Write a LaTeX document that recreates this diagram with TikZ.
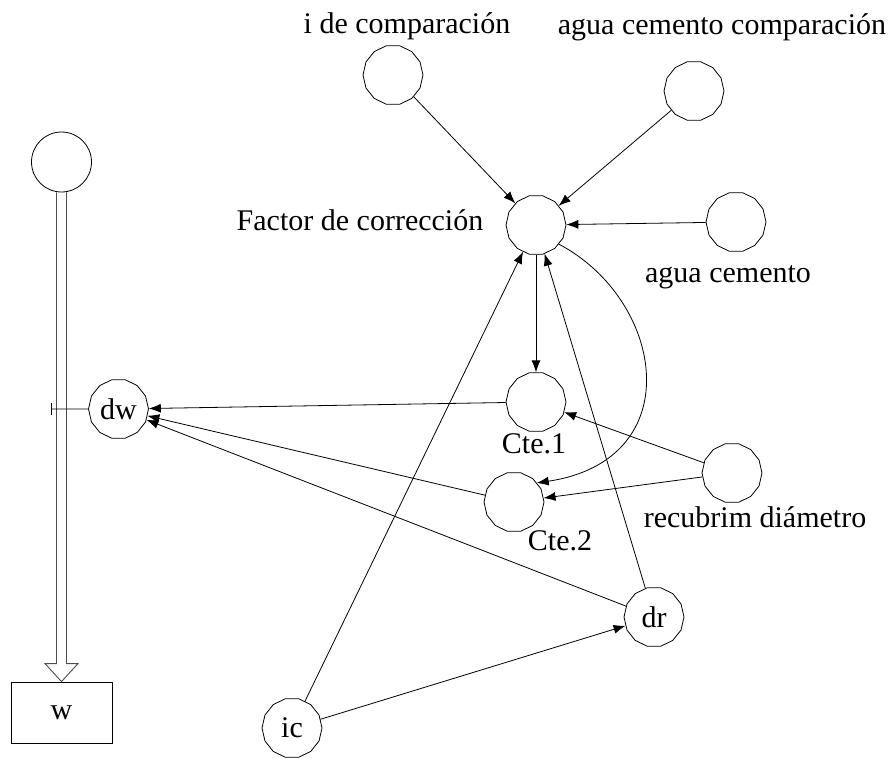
\documentclass[tikz,border=0pt]{standalone}
\usepackage{fontspec}
\setmainfont{Liberation Serif}
\usetikzlibrary{shapes.geometric,arrows.meta,calc}
\begin{document}
\begin{tikzpicture}[x=1pt,y=-1pt,
  every node/.style={font=\fontsize{30}{36}\selectfont},
  poly/.style={draw,regular polygon,regular polygon sides=14,minimum size=60pt,inner sep=0pt,line width=0.8pt},
  lbl/.style={anchor=base,inner sep=0pt},
  edge/.style={line width=0.8pt,-{Latex[length=12pt,width=9pt]}}]
\useasboundingbox (0,0) rectangle (895,758);
% nodes
\node[draw,circle,minimum size=60pt,inner sep=0pt,line width=0.8pt] (tl) at (61.5,162) {};
\node[poly] (dw) at (118.5,409) {dw};
\node[draw,rectangle,minimum width=101pt,minimum height=61pt,line width=0.8pt] (w) at (61.5,712.5) {w};
\node[poly] (icomp) at (393,75) {};
\node[poly] (acc) at (694,91) {};
\node[poly] (factor) at (536,225) {};
\node[poly] (ac) at (736,222) {};
\node[poly] (cte1) at (536,402) {};
\node[poly] (cte2) at (514,502) {};
\node[poly] (recub) at (732,473) {};
\node[poly] (dr) at (654,617) {dr};
\node[poly] (ic) at (292,728) {ic};
% labels
\node[lbl] (licomp) at (407,33) {i de comparación};
\node[lbl] (lacc) at (722,34) {agua cemento comparación};
\node[lbl] (lfactor) at (360,230) {Factor de corrección};
\node[lbl] (lac) at (728,282) {agua cemento};
\node[lbl] (lcte1) at (534,453) {Cte.1};
\node[lbl] (lcte2) at (560,550) {Cte.2};
\node[lbl] (lrecub) at (755,527) {recubrim diámetro};
% double arrow tl -> w
\draw[black!70,line width=0.9pt]
  ($(tl.south)+(-5,0)$) -- ($(w.north)+(-5,-18)$) -- ($(w.north)+(-16.5,-18)$)
  -- (w.north) -- ($(w.north)+(16.5,-18)$) -- ($(w.north)+(5,-18)$) -- ($(tl.south)+(5,0)$);
% tick
\coordinate (tick) at (51,409);
\draw[line width=0.8pt,-{Bar[width=12pt]}] (dw) -- (tick);
% edges
\draw[edge] (icomp) -- (factor);
\draw[edge] (acc) -- (factor);
\draw[edge] (ac) -- (factor);
\draw[edge] (factor) -- (cte1);
\draw[edge] (factor.-40) .. controls (665,300) and (690,460) .. (cte2.40);
\draw[edge] (ic) -- (factor);
\draw[edge] (dr) -- (factor);
\draw[edge] (ic) -- (dr);
\draw[edge] (cte1) -- (dw);
\draw[edge] (cte2) -- (dw);
\draw[edge] (dr) -- (dw);
\draw[edge] (recub) -- (cte1);
\draw[edge] (recub) -- (cte2);
\end{tikzpicture}
\end{document}
